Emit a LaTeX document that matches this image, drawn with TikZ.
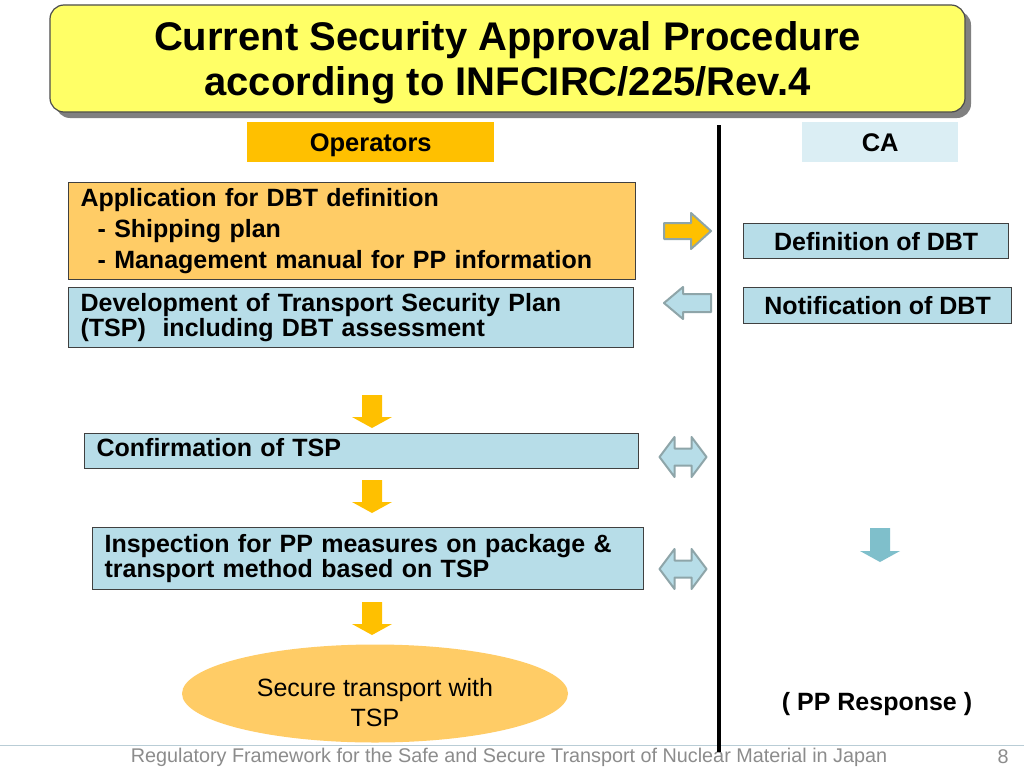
\documentclass[tikz,border=0pt]{standalone}
\usepackage{fontspec}
\setmainfont{Liberation Sans}
\usetikzlibrary{shapes.geometric,shadows,positioning}

\definecolor{titleyellow}{HTML}{FFFF66}
\definecolor{opsorange}{HTML}{FFC000}
\definecolor{calight}{HTML}{DBEEF4}
\definecolor{appfill}{HTML}{FFCC66}
\definecolor{tspfill}{HTML}{B7DDE8}
\definecolor{arrowedge}{HTML}{8EA5A9}
\definecolor{downyellow}{HTML}{FFC000}
\definecolor{downteal}{HTML}{7FBFCB}
\definecolor{footgray}{HTML}{8C8C8C}
\definecolor{footline}{HTML}{B9CDD6}

\tikzset{
  titlebox/.style={draw=black!70, line width=1.2pt, fill=titleyellow, rounded corners=14pt,
    drop shadow={shadow xshift=6pt, shadow yshift=-6pt, fill=black!50, opacity=1},
    inner sep=0pt, font=\fontsize{40}{45}\selectfont\bfseries},
  headbox/.style={anchor=north west, minimum height=40pt, inner sep=0pt, text depth=0pt,
    font=\fontsize{25.5}{28}\selectfont\bfseries},
  stepbox/.style={draw=black!75, line width=1.2pt, anchor=north west, align=left,
    inner xsep=12pt, inner ysep=0pt},
  cabox/.style={draw=black!75, line width=1.2pt, fill=tspfill, anchor=north west,
    inner sep=0pt, font=\fontsize{25}{30}\selectfont\bfseries},
  blockarrow/.style={draw=arrowedge, line width=2pt, line join=round}
}

\begin{document}
\begin{tikzpicture}[x=1pt, y=-1pt]
  % Page size of the slide
  \useasboundingbox[fill=white] (0,0) rectangle (1024,768);

  % Title
  \node[titlebox, minimum width=915pt, minimum height=107pt] (title) at (507.5,58.5)
    {\raisebox{-5pt}[\height][\depth]{\begin{tabular}{@{}c@{}}Current Security Approval Procedure\\
      according to INFCIRC/225/Rev.4\end{tabular}}};

  % Column heads
  \node[headbox, fill=opsorange, minimum width=247pt] (ops) at (247,122) {Operators};
  \node[headbox, fill=calight, minimum width=156pt] (ca) at (802,122) {CA};

  % Operator side steps
  \node[stepbox, fill=appfill, minimum height=97pt, text width=543pt,
    font=\fontsize{25}{31}\selectfont\bfseries] (app) at (68,182)
    {Application for DBT definition\\
     \hspace*{17pt}- Shipping plan\\
     \hspace*{17pt}- Management manual for PP information};
  \node[stepbox, fill=tspfill, minimum height=60pt, text width=541pt,
    font=\fontsize{25}{25}\selectfont\bfseries] (dev) at (68,287)
    {Development of Transport Security Plan\\(TSP)\ \ including DBT assessment};
  \node[stepbox, fill=tspfill, minimum height=35pt, text width=530pt, text depth=7pt,
    font=\fontsize{25}{25}\selectfont\bfseries] (conf) at (84,433)
    {Confirmation of TSP};
  \node[stepbox, fill=tspfill, minimum height=62pt, text width=527pt,
    font=\fontsize{25}{23}\selectfont\bfseries] (insp) at (92,527)
    {Inspection for PP measures on package \&\\transport method based on TSP};
  \node[ellipse, fill=appfill, minimum width=386pt, minimum height=98pt, inner sep=0pt,
    font=\fontsize{25}{30}\selectfont] (secure) at (375,693.5)
    {\raisebox{-12pt}[\height][\depth]{\begin{tabular}{@{}c@{}}Secure transport with\\TSP\end{tabular}}};

  % CA side steps
  \node[cabox, minimum width=265pt, minimum height=35pt] (defdbt) at (743,223) {Definition of DBT};
  \node[cabox, minimum width=268pt, minimum height=36pt] (notdbt) at (743,287) {Notification of DBT};
  \node[font=\fontsize{25}{28}\selectfont\bfseries] (ppresp) at (877,704) {( PP Response )};

  % Down arrows between operator steps
  \foreach \ty in {395,480,602} {
    \fill[downyellow, shift={(372,\ty)}] (-10,0) -- (10,0) -- (10,22) -- (20,22) -- (0,33)
      -- (-20,22) -- (-10,22) -- cycle;
  }
  \fill[downteal, shift={(880,528)}] (-10,0) -- (10,0) -- (10,23) -- (20,23) -- (0,34)
    -- (-20,23) -- (-10,23) -- cycle;

  % Arrows across the divider
  \draw[blockarrow, fill=opsorange, shift={(664,231)}] (0,-8) -- (27,-8) -- (27,-18) -- (47,0)
    -- (27,18) -- (27,8) -- (0,8) -- cycle;
  \draw[blockarrow, fill=tspfill, shift={(711,303)}] (0,-9) -- (-28,-9) -- (-28,-16) -- (-47,0)
    -- (-28,16) -- (-28,9) -- (0,9) -- cycle;
  \foreach \ty in {457,569} {
    \draw[blockarrow, fill=tspfill, shift={(683,\ty)}] (-23.5,0) -- (-8.5,-20) -- (-8.5,-8.5)
      -- (8.5,-8.5) -- (8.5,-20) -- (23.5,0) -- (8.5,20) -- (8.5,8.5) -- (-8.5,8.5)
      -- (-8.5,20) -- cycle;
  }

  % Footer
  \coordinate (footl) at (0,745);
  \coordinate (footr) at (1024,745);
  \draw[footline, line width=1pt] (footl) -- (footr);
  \node[text=footgray, font=\fontsize{19.8}{22}\selectfont] (foot) at (509,757)
    {Regulatory Framework for the Safe and Secure Transport of Nuclear Material in Japan};
  \node[text=footgray, font=\fontsize{19.8}{22}\selectfont] (page) at (1003,757) {8};

  % Divider between operators and CA
  \coordinate (divtop) at (719,125);
  \coordinate (divbot) at (719,752);
  \draw[line width=4pt] (divtop) -- (divbot);
\end{tikzpicture}
\end{document}
